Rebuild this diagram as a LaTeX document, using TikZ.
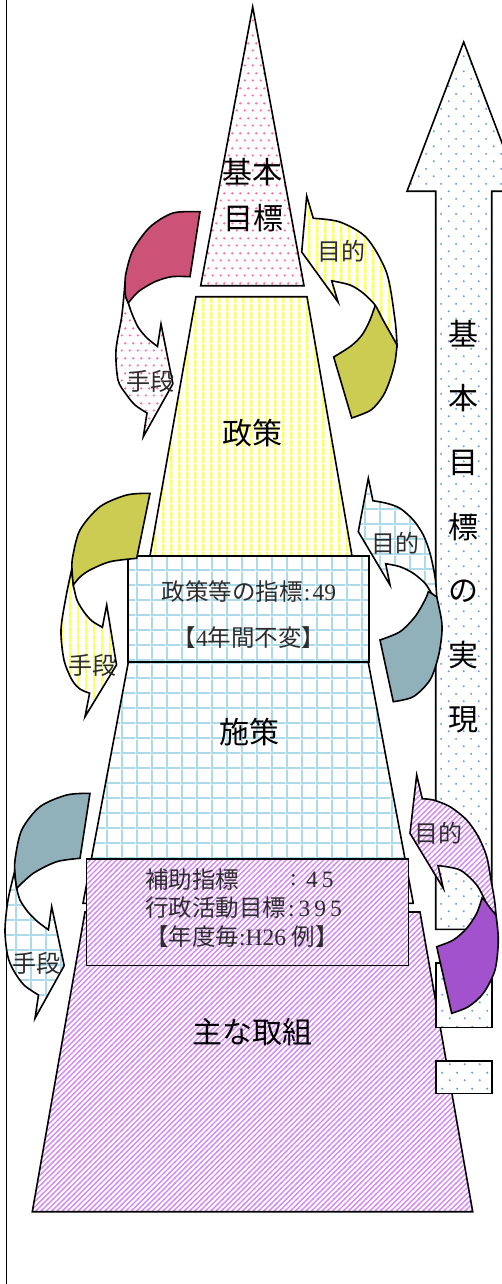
\documentclass[tikz,border=0pt]{standalone}
\usepackage{fontspec}
\setmainfont{Liberation Serif}
\newfontfamily\cjk{Noto Sans CJK JP}
\usetikzlibrary{patterns}

\pgfdeclarepatternformonly{pdots}{\pgfqpoint{0pt}{0pt}}{\pgfqpoint{7.5pt}{15pt}}{\pgfqpoint{7.5pt}{15pt}}{%
\pgfpathcircle{\pgfqpoint{1.875pt}{3.75pt}}{1.3pt}%
\pgfpathcircle{\pgfqpoint{5.625pt}{11.25pt}}{1.3pt}%
\pgfusepath{fill}}
\pgfdeclarepatternformonly{vstripes}{\pgfqpoint{0pt}{0pt}}{\pgfqpoint{7.7pt}{7.7pt}}{\pgfqpoint{7.7pt}{7.7pt}}{%
\pgfpathrectangle{\pgfqpoint{0pt}{0pt}}{\pgfqpoint{2.4pt}{7.7pt}}%
\pgfusepath{fill}}
\pgfdeclarepatternformonly{bgrid}{\pgfqpoint{0pt}{0pt}}{\pgfqpoint{15.2pt}{15.2pt}}{\pgfqpoint{15.2pt}{15.2pt}}{%
\pgfpathrectangle{\pgfqpoint{0pt}{0pt}}{\pgfqpoint{2pt}{15.2pt}}%
\pgfpathrectangle{\pgfqpoint{0pt}{0pt}}{\pgfqpoint{15.2pt}{2pt}}%
\pgfusepath{fill}}
\pgfdeclarepatternformonly{diagl}{\pgfqpoint{-1pt}{-1pt}}{\pgfqpoint{6.3pt}{6.3pt}}{\pgfqpoint{5.3pt}{5.3pt}}{%
\pgfsetlinewidth{1.4pt}%
\pgfpathmoveto{\pgfqpoint{-0.6pt}{-0.6pt}}%
\pgfpathlineto{\pgfqpoint{5.9pt}{5.9pt}}%
\pgfusepath{stroke}}
\pgfdeclarepatternformonly{bdots}{\pgfqpoint{0pt}{0pt}}{\pgfqpoint{15.4pt}{15.4pt}}{\pgfqpoint{15.4pt}{15.4pt}}{%
\pgfpathcircle{\pgfqpoint{3.85pt}{3.85pt}}{1.2pt}%
\pgfpathcircle{\pgfqpoint{11.55pt}{11.55pt}}{1.2pt}%
\pgfusepath{fill}}

\definecolor{pinkdot}{RGB}{255,105,170}
\definecolor{yelstripe}{RGB}{255,255,85}
\definecolor{gridblue}{RGB}{172,218,232}
\definecolor{purstripe}{RGB}{214,140,245}
\definecolor{bluedot}{RGB}{110,160,225}
\definecolor{dpink}{RGB}{205,82,120}
\definecolor{olive}{RGB}{204,204,82}
\definecolor{grayblue}{RGB}{144,176,186}
\definecolor{solpurple}{RGB}{162,82,204}
\definecolor{txtgray}{RGB}{45,45,45}

\tikzset{
  shp/.style={draw=black, line width=1.6pt, line join=miter},
  pinkpat/.style={shp, preaction={fill=white}, pattern=pdots, pattern color=pinkdot},
  yelpat/.style={shp, preaction={fill=white}, pattern=vstripes, pattern color=yelstripe},
  gridpat/.style={shp, preaction={fill=white}, pattern=bgrid, pattern color=gridblue},
  purpat/.style={shp, preaction={fill=white}, pattern=diagl, pattern color=purstripe},
  bluepat/.style={shp, preaction={fill=white}, pattern=bdots, pattern color=bluedot},
  dpinkfill/.style={shp, fill=dpink},
  olivefill/.style={shp, fill=olive},
  grayfill/.style={shp, fill=grayblue},
  purfill/.style={shp, fill=solpurple},
  biglbl/.style={font=\cjk\fontsize{30}{30}\selectfont, text=black, inner sep=0pt},
  smlbl/.style={font=\cjk\fontsize{24}{24}\selectfont, text=txtgray, inner sep=0pt},
  boxlbl/.style={font=\fontsize{23.5}{23.5}\selectfont, text=txtgray, inner sep=0pt},
}

\begin{document}
\begin{tikzpicture}[x=1pt,y=-1pt]
\useasboundingbox (0,0) rectangle (501,1284);

% left frame line
\coordinate (ftop) at (6.5,0);
\coordinate (fbot) at (6.5,1284);
\draw[line width=1.8pt] (ftop) -- (fbot);

% ---------------- pyramid ----------------
\draw[pinkpat] (252.7,7) -- (304,285.7) -- (200.7,285.7) -- cycle;
\draw[yelpat] (196,296.7) -- (307,296.7) -- (361.4,610) -- (140.4,610) -- cycle;
\draw[gridpat] (132.5,640) -- (364.1,640) -- (413.3,903.3) -- (83,903.3) -- cycle;
\draw[purpat] (85,912) -- (420,912) -- (472.7,1211.7) -- (32.3,1211.7) -- cycle;
\draw[gridpat] (128,556) rectangle (369,662);
\draw[purpat] (86.5,859) rectangle (408.3,965.5);

\node[biglbl] (kihon) at (252,172) {基本};
\node[biglbl] (mokuhyo) at (253,218) {目標};
\node[biglbl] (seisaku) at (252,433) {政策};
\node[biglbl] (shisaku) at (249,732) {施策};
\node[biglbl] (torikumi) at (252,1032) {主な取組};

\node[boxlbl] (b1a) at (249,592) {{\cjk 政策等の指標}\kern1pt:\kern2pt49};
\node[boxlbl] (b1b) at (249,638) {{\cjk 【}4{\cjk 年間不変】}};
\node[boxlbl, anchor=west] (b2a) at (145,880) {\cjk 補助指標};
\node[boxlbl] (b2c) at (293.5,880) {:};
\node[boxlbl, anchor=west] (b2n) at (306,880) {4\kern4pt 5};
\node[boxlbl, anchor=west] (b2b) at (145,908) {{\cjk 行政活動目標}\kern2pt:\kern4pt 3\kern4pt 9\kern4pt 5};
\node[boxlbl] (b2d) at (242,937) {{\cjk 【年度毎}:H26 {\cjk 例】}};

% ---------------- big up arrow ----------------
\draw[bluepat] (463.7,42) -- (520.4,191.3) -- (491.7,191.3) -- (491.7,929.3) -- (435.7,929.3) -- (435.7,191.3) -- (407,191.3) -- cycle;
\draw[bluepat] (435.7,962.7) rectangle (491.7,1027.3);
\draw[bluepat] (435.7,1061) rectangle (491.7,1093.3);
\foreach \c [count=\i] in {基,本,目,標,の,実,現}
  \node[biglbl] (v\i) at (463.7,{334+64.3*(\i-1)}) {\c};

% ---------------- left arrows (手段) ----------------
% arrow 1
\draw[pinkpat] plot[smooth] coordinates {(125,283) (121.7,316.7) (116,350) (118,380) (126,394) (135,405) (147,413)}
  -- (143.3,436.7) -- (172.9,383.7) -- (161,324) -- (157.5,346.5)
  -- plot[smooth] coordinates {(157.5,346.5) (147,338) (138,327) (131.7,313) (128.3,303)} -- (125.7,294) -- cycle;
\draw[dpinkfill] plot[smooth] coordinates {(200,211.7) (173,213) (150,227) (133,250) (126,273) (125,285) (125.7,296.7) (128.3,303)}
  -- plot[smooth] coordinates {(128.3,303) (138.3,291.7) (155,281.7) (171.7,276.7) (190,276.7)} -- cycle;
% arrow 2
\draw[yelpat] plot[smooth] coordinates {(72,568) (66,596.7) (61,630) (64,660) (72,680) (80,689) (89.6,693.2)}
  -- (85,716.7) -- (116.5,664.9) -- (106.7,605) -- (102.4,627.3)
  -- plot[smooth] coordinates {(102.4,627.3) (92,621) (84,612) (77,600) (73.3,585)} -- (72.2,575) -- cycle;
\draw[olivefill] plot[smooth] coordinates {(150,493.3) (126.7,495) (100,506.7) (80,530) (72.7,556.7) (72,570) (73.3,585)}
  -- plot[smooth] coordinates {(73.3,585) (80,577) (90,570) (110,561.7) (136.7,558.3)} -- cycle;
% arrow 3
\draw[gridpat] plot[smooth] coordinates {(15,870) (8,900) (5,930) (7.5,955) (13.3,970) (24,985) (38.5,995)}
  -- (35,1018.3) -- (64.2,965.6) -- (51.7,906.7) -- (48.4,929.7)
  -- plot[smooth] coordinates {(48.4,929.7) (38,922) (28,912) (20,900) (16.7,888.3)} -- (15.2,878) -- cycle;
\draw[grayfill] plot[smooth] coordinates {(90,793.3) (66.7,795) (40,806.7) (21.7,830) (15,860) (15.2,876) (16.7,888.3)}
  -- plot[smooth] coordinates {(16.7,888.3) (33.3,873.3) (56.7,861.7) (80,858.3)} -- cycle;

% ---------------- right arrows (目的) ----------------
% arrow 1
\draw[olivefill] plot[smooth] coordinates {(397,345) (395,362) (390,380) (383,396) (371,410) (351.7,418)}
  -- (333.7,357) -- plot[smooth] coordinates {(333.7,357) (351,346) (362,335) (370,320) (376,303)} -- (390,318) -- cycle;
\draw[yelpat] (306.7,196) -- (313.3,218.3)
  -- plot[smooth] coordinates {(313.3,218.3) (340,222) (366.7,238) (386.7,273) (395,320) (397,345)}
  -- plot[smooth] coordinates {(397,345) (392,336) (383,320) (375,305) (363,293) (350,285) (331.7,280.8)}
  -- (338,302) -- (301.7,252) -- cycle;
% arrow 2
\draw[grayfill] plot[smooth] coordinates {(436.7,596.7) (441.5,620) (441.7,635) (438.3,656.7) (430,680) (413.3,696.7) (393.3,701.7)}
  -- (380,640) -- plot[smooth] coordinates {(380,640) (400,631.7) (415,616.7) (425,600) (428.3,591.7)} -- (433,594) -- cycle;
\draw[gridpat] (368.3,478.3) -- (372.9,500.7)
  -- plot[smooth] coordinates {(372.9,500.7) (386.7,503.3) (400,508.3) (413.3,520) (423.3,535) (430,553.3) (435,576.7) (436.7,596.7)}
  -- plot[smooth] coordinates {(436.7,596.7) (431.7,593.3) (425,583.3) (413.3,573.3) (400,566.7) (385.7,563.7)}
  -- (390,585) -- (358.3,531.7) -- cycle;
% arrow 3
\draw[purfill] plot[smooth] coordinates {(496,915) (498.3,940) (495,970) (483.3,993.3) (468.3,1006.7) (451.7,1013.3)}
  -- (436.7,946.7) -- plot[smooth] coordinates {(436.7,946.7) (453.3,940) (466.7,928.3) (476.7,913.3) (482,898)} -- (490,905) -- cycle;
\draw[purpat] (416.7,775) -- (422.3,798.8)
  -- plot[smooth] coordinates {(422.3,798.8) (433.3,800) (450,806.7) (466.7,820) (478.3,836.7) (486.7,856.7) (491,880) (494.5,900) (496,915)}
  -- plot[smooth] coordinates {(496,915) (486.7,903.3) (476.7,885) (460,870) (438,865.6)}
  -- (443.3,888.3) -- (410,833.3) -- cycle;

% labels on curved arrows
\node[smlbl] (shudan1) at (150,381.7) {手段};
\node[smlbl] (shudan2) at (92.5,665) {手段};
\node[smlbl] (shudan3) at (36.7,963) {手段};
\node[smlbl] (mokuteki1) at (341,251.7) {目的};
\node[smlbl] (mokuteki2) at (395,543) {目的};
\node[smlbl] (mokuteki3) at (438,833) {目的};
\end{tikzpicture}
\end{document}
